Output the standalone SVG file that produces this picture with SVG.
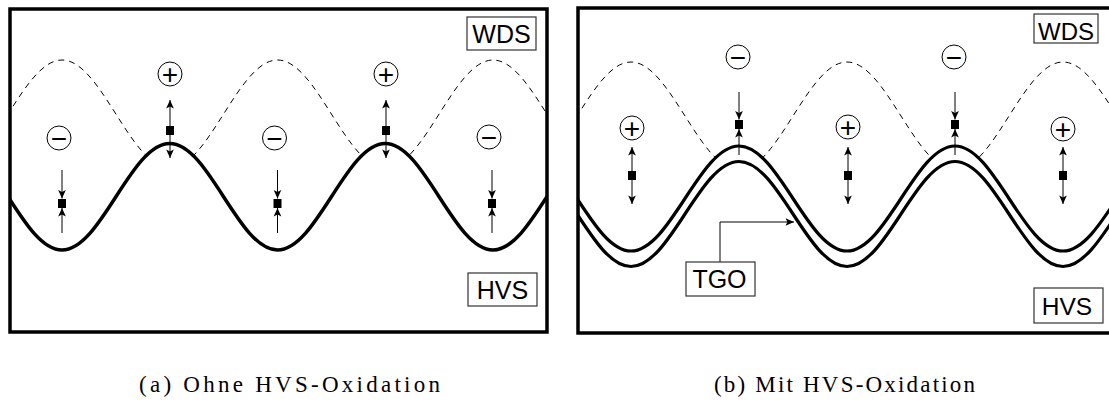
<svg xmlns="http://www.w3.org/2000/svg" width="1109" height="406" viewBox="0 0 1109 406">
<style>
.frame{fill:none;stroke:#000;stroke-width:3.5}
.solid{fill:none;stroke:#000;stroke-width:3.5}
.solid2{fill:none;stroke:#000;stroke-width:3.2}
.dash{fill:none;stroke:#000;stroke-width:1;stroke-dasharray:6,5}
.ring{fill:#fff;stroke:#000;stroke-width:1}
.sign{font-family:"Liberation Sans",Arial,sans-serif;font-size:28px;text-anchor:middle;dominant-baseline:central}
.sq{fill:#000}
.arr{stroke:#000;stroke-width:1;fill:none;marker-end:url(#ah)}
.box{fill:#fff;stroke:#333;stroke-width:1.2}
.lbl{font-family:"Liberation Sans",Arial,sans-serif;font-size:25px;text-anchor:middle}
.cap{font-family:"Liberation Serif","Times New Roman",serif;font-size:23px}
</style>
<defs>
<marker id="ah" markerUnits="userSpaceOnUse" markerWidth="12" markerHeight="12" viewBox="-8 -5 10 10" refX="0" refY="0" orient="auto">
<path d="M-7,-3.2 L0,0 L-7,3.2 L-5.5,0 Z" fill="#000"/>
</marker>
<clipPath id="clipL"><rect x="10" y="9" width="537" height="323"/></clipPath>
<clipPath id="clipR"><rect x="578" y="8" width="540" height="325"/></clipPath>
<clipPath id="aboveL"><path d="M -45.75,143.5 C -6.6,143.5 22.8,250 62,250 C 101.2,250 130.6,143.5 169.75,143.5 C 208.9,143.5 238.3,250 277.5,250 C 316.7,250 346.1,143.5 385.25,143.5 C 424.4,143.5 453.8,250 493,250 C 532.2,250 561.6,143.5 600.75,143.5 L 600.75,0 L -45.75,0 Z"/></clipPath>
<clipPath id="aboveR"><path d="M 523,146 C 562.25,146 591.75,251 631,251 C 670.25,251 699.75,146 739,146 C 778.25,146 807.75,251 847,251 C 886.25,251 915.75,146 955,146 C 994.25,146 1023.75,251 1063,251 C 1102.25,251 1131.75,146 1171,146 L 1171,0 L 523,0 Z"/></clipPath>
</defs>
<rect width="1109" height="406" fill="#fff"/>

<!-- Panel (a) -->
<g id="panel-a">
<g clip-path="url(#clipL)">
<g clip-path="url(#aboveL)">
<path class="dash" d="M -45.75,168 C -6.6,168 22.8,60 62,60 C 101.2,60 130.6,168 169.75,168 C 208.9,168 238.3,60 277.5,60 C 316.7,60 346.1,168 385.25,168 C 424.4,168 453.8,60 493,60 C 532.2,60 561.6,168 600.75,168"/>
</g>
<path class="solid" d="M -45.75,143.5 C -6.6,143.5 22.8,250 62,250 C 101.2,250 130.6,143.5 169.75,143.5 C 208.9,143.5 238.3,250 277.5,250 C 316.7,250 346.1,143.5 385.25,143.5 C 424.4,143.5 453.8,250 493,250 C 532.2,250 561.6,143.5 600.75,143.5"/>
</g>
<rect class="frame" x="10" y="9" width="537" height="323"/>
</g>

<!-- Panel (b) -->
<g id="panel-b">
<g clip-path="url(#clipR)">
<g clip-path="url(#aboveR)">
<path class="dash" d="M 523,170 C 562.25,170 591.75,62 631,62 C 670.25,62 699.75,170 739,170 C 778.25,170 807.75,62 847,62 C 886.25,62 915.75,170 955,170 C 994.25,170 1023.75,62 1063,62 C 1102.25,62 1131.75,170 1171,170"/>
</g>
<path class="solid2" d="M 523,146 C 562.25,146 591.75,251 631,251 C 670.25,251 699.75,146 739,146 C 778.25,146 807.75,251 847,251 C 886.25,251 915.75,146 955,146 C 994.25,146 1023.75,251 1063,251 C 1102.25,251 1131.75,146 1171,146"/>
<path class="solid2" d="M 523,161.5 C 562.25,161.5 591.75,266.5 631,266.5 C 670.25,266.5 699.75,161.5 739,161.5 C 778.25,161.5 807.75,266.5 847,266.5 C 886.25,266.5 915.75,161.5 955,161.5 C 994.25,161.5 1023.75,266.5 1063,266.5 C 1102.25,266.5 1131.75,161.5 1171,161.5"/>
</g>
<rect class="frame" x="578" y="8" width="545" height="325"/>
</g>

<!-- Connectors -->
<g id="connectors">
<line class="arr" x1="170" y1="126" x2="170" y2="100"/>
<line class="arr" x1="170" y1="135" x2="170" y2="158"/>
<line class="arr" x1="386" y1="126" x2="386" y2="100"/>
<line class="arr" x1="386" y1="135" x2="386" y2="158"/>
<line class="arr" x1="62" y1="170" x2="62" y2="198.5"/>
<line class="arr" x1="62" y1="233" x2="62" y2="208"/>
<line class="arr" x1="277.5" y1="170" x2="277.5" y2="198.5"/>
<line class="arr" x1="277.5" y1="233" x2="277.5" y2="208"/>
<line class="arr" x1="492" y1="170" x2="492" y2="198.5"/>
<line class="arr" x1="492" y1="233" x2="492" y2="208"/>
<line class="arr" x1="632" y1="171" x2="632" y2="147"/>
<line class="arr" x1="632" y1="180" x2="632" y2="204"/>
<line class="arr" x1="848" y1="171" x2="848" y2="147"/>
<line class="arr" x1="848" y1="180" x2="848" y2="204"/>
<line class="arr" x1="1063" y1="171" x2="1063" y2="147"/>
<line class="arr" x1="1063" y1="180" x2="1063" y2="204"/>
<line class="arr" x1="739" y1="92" x2="739" y2="119.5"/>
<line class="arr" x1="739" y1="155" x2="739" y2="129"/>
<line class="arr" x1="955" y1="92" x2="955" y2="119.5"/>
<line class="arr" x1="955" y1="155" x2="955" y2="129"/>
<polyline class="arr" points="720,262 720,222 794,222"/>
</g>

<!-- Nodes panel a -->
<g id="a-plus-1"><circle class="ring" cx="170" cy="74" r="12"/><text class="sign" x="170" y="74">+</text><rect class="sq" x="166" y="126" width="8" height="9"/></g>
<g id="a-plus-2"><circle class="ring" cx="386" cy="74" r="12"/><text class="sign" x="386" y="74">+</text><rect class="sq" x="382" y="126" width="8" height="9"/></g>
<g id="a-minus-1"><circle class="ring" cx="59" cy="138" r="12"/><text class="sign" x="59" y="138">−</text><rect class="sq" x="58" y="199" width="8" height="9"/></g>
<g id="a-minus-2"><circle class="ring" cx="274.5" cy="138" r="12"/><text class="sign" x="274.5" y="138">−</text><rect class="sq" x="273.5" y="199" width="8" height="9"/></g>
<g id="a-minus-3"><circle class="ring" cx="489" cy="137" r="12"/><text class="sign" x="489" y="137">−</text><rect class="sq" x="488" y="199" width="8" height="9"/></g>
<g id="a-wds"><rect class="box" x="467" y="17" width="69" height="33"/><text class="lbl" x="501.5" y="43">WDS</text></g>
<g id="a-hvs"><rect class="box" x="468" y="273" width="69" height="33"/><text class="lbl" x="502.5" y="299">HVS</text></g>

<!-- Nodes panel b -->
<g id="b-plus-1"><circle class="ring" cx="632" cy="128" r="12"/><text class="sign" x="632" y="128">+</text><rect class="sq" x="628" y="171" width="8" height="9"/></g>
<g id="b-plus-2"><circle class="ring" cx="848" cy="127" r="12"/><text class="sign" x="848" y="127">+</text><rect class="sq" x="844" y="171" width="8" height="9"/></g>
<g id="b-plus-3"><circle class="ring" cx="1063" cy="129" r="12"/><text class="sign" x="1063" y="129">+</text><rect class="sq" x="1059" y="171" width="8" height="9"/></g>
<g id="b-minus-1"><circle class="ring" cx="738" cy="57" r="12"/><text class="sign" x="738" y="57">−</text><rect class="sq" x="735" y="120" width="8" height="9"/></g>
<g id="b-minus-2"><circle class="ring" cx="954" cy="57" r="12"/><text class="sign" x="954" y="57">−</text><rect class="sq" x="951" y="120" width="8" height="9"/></g>
<g id="b-wds"><rect class="box" x="1034" y="14" width="64" height="29"/><text class="lbl" x="1066" y="40" style="font-size:24px">WDS</text></g>
<g id="b-hvs"><rect class="box" x="1034" y="288" width="69" height="35"/><text class="lbl" x="1067" y="315" style="font-size:24.5px">HVS</text></g>
<g id="b-tgo"><rect class="box" x="686" y="262" width="69" height="34"/><text class="lbl" x="719.5" y="288">TGO</text></g>

<!-- Captions -->
<text class="cap" x="139" y="392" textLength="301">(a) Ohne HVS-Oxidation</text>
<text class="cap" x="714" y="392" textLength="261">(b) Mit HVS-Oxidation</text>
</svg>
